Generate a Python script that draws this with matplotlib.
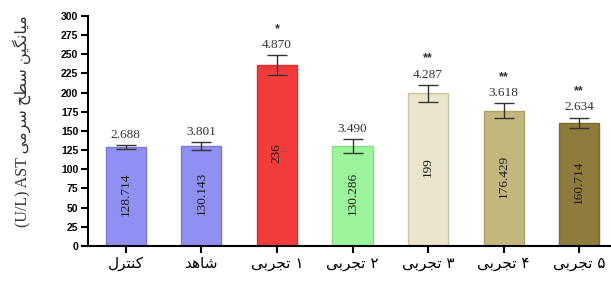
import re
import matplotlib
matplotlib.use('Agg')
import matplotlib.pyplot as plt
import numpy as np

groups = ['کنترل', 'شاهد', 'تجربی ۱', 'تجربی ۲', 'تجربی ۳', 'تجربی ۴', 'تجربی ۵']
means = [128.714, 130.143, 236, 130.286, 199, 176.429, 160.714]
se_labels = ['2.688', '3.801', '4.870', '3.490', '4.287', '3.618', '2.634']
errs = [2.9, 4.8, 13.0, 9.2, 11.3, 9.5, 6.8]
stars = ['', '', '*', '', '**', '**', '**']
ylabel = '(U/L) AST میانگین سطح سرمی'

colors = ['#9090f2', '#9090f2', '#f23c3c', '#9cf59c', '#ebe5cb', '#c4b77e', '#8f7c3c']
edges = ['#7878d8', '#7878d8', '#d83030', '#86dd86', '#c9c2a6', '#ada16a', '#7a6930']

# simple arabic shaping (matplotlib does not join letters or do bidi)
FORMS = {
    'ا': ('\uFE8D', '\uFE8E'), 'د': ('\uFEA9', '\uFEAA'), 'ر': ('\uFEAD', '\uFEAE'),
    'ب': ('\uFE8F', '\uFE90', '\uFE91', '\uFE92'), 'ت': ('\uFE95', '\uFE96', '\uFE97', '\uFE98'),
    'ج': ('\uFE9D', '\uFE9E', '\uFE9F', '\uFEA0'), 'ح': ('\uFEA1', '\uFEA2', '\uFEA3', '\uFEA4'),
    'س': ('\uFEB1', '\uFEB2', '\uFEB3', '\uFEB4'), 'ش': ('\uFEB5', '\uFEB6', '\uFEB7', '\uFEB8'),
    'ط': ('\uFEC1', '\uFEC2', '\uFEC3', '\uFEC4'), 'ل': ('\uFEDD', '\uFEDE', '\uFEDF', '\uFEE0'),
    'م': ('\uFEE1', '\uFEE2', '\uFEE3', '\uFEE4'), 'ن': ('\uFEE5', '\uFEE6', '\uFEE7', '\uFEE8'),
    'ه': ('\uFEE9', '\uFEEA', '\uFEEB', '\uFEEC'), 'ی': ('\uFBFC', '\uFBFD', '\uFBFE', '\uFBFF'),
    'ک': ('\uFB8E', '\uFB8F', '\uFB90', '\uFB91'), 'گ': ('\uFB92', '\uFB93', '\uFB94', '\uFB95'),
}
letters = ''.join(FORMS)


def shape(word):
    out = []
    for i, ch in enumerate(word):
        f = FORMS[ch]
        prev = i > 0 and len(FORMS[word[i - 1]]) == 4
        nxt = i < len(word) - 1 and len(f) == 4
        if prev and nxt:
            out.append(f[3])
        elif prev:
            out.append(f[1])
        elif nxt:
            out.append(f[2])
        else:
            out.append(f[0])
    return ''.join(out)


def visual(text):
    pat = '[%s]+(?: [%s]+)*' % (letters, letters)
    return re.sub(pat, lambda m: ' '.join(shape(w) for w in m.group(0).split(' '))[::-1], text)


fig = plt.figure(figsize=(6.11, 2.81), dpi=100)
ax = fig.add_axes([0.144, 0.125, 0.856, 0.818])
x = np.arange(len(means))
ax.bar(x, means, width=0.53, color=colors, edgecolor=edges, linewidth=1, zorder=2)
ax.errorbar(x, means, yerr=errs, fmt='none', ecolor='#333333', elinewidth=1,
            capsize=7.5, capthick=1, zorder=3)

for xi, m, e, s, st in zip(x, means, errs, se_labels, stars):
    ax.text(xi, m / 2 + 3, f'{m:g}', rotation=90, ha='center', va='center',
            family='Liberation Serif', fontsize=9.5, color='#1a1a1a', zorder=4)
    ax.annotate(s, (xi, m + e), xytext=(0, 3), textcoords='offset points',
                ha='center', va='bottom', family='Liberation Serif', fontsize=9.5, color='#333333')
    if st:
        ax.annotate(st, (xi, m + e), xytext=(0, 14.5), textcoords='offset points',
                    ha='center', va='bottom', family='Liberation Sans', fontsize=9,
                    fontweight='bold', color='#333333')

ax.set_ylim(0, 300)
ax.set_yticks(range(0, 301, 25))
ax.set_xlim(-0.5, 6.42)
ax.set_xticks(x)
ax.set_xticklabels([visual(g) for g in groups], family='DejaVu Sans', fontsize=11)
for lab in ax.get_yticklabels():
    lab.set_family('Liberation Sans')
    lab.set_fontweight('bold')
    lab.set_fontsize(7.5)
for sp in ['top', 'right']:
    ax.spines[sp].set_visible(False)
for sp in ['left', 'bottom']:
    ax.spines[sp].set_linewidth(1.5)
ax.tick_params(axis='both', width=1.5, length=5, direction='out', pad=2)

fig.text(0.035, 0.57, visual(ylabel), rotation=90, ha='center', va='center',
         family=['Liberation Serif', 'DejaVu Sans'], fontsize=11.5, color='#333333')

fig.savefig('out.png', dpi=100)
